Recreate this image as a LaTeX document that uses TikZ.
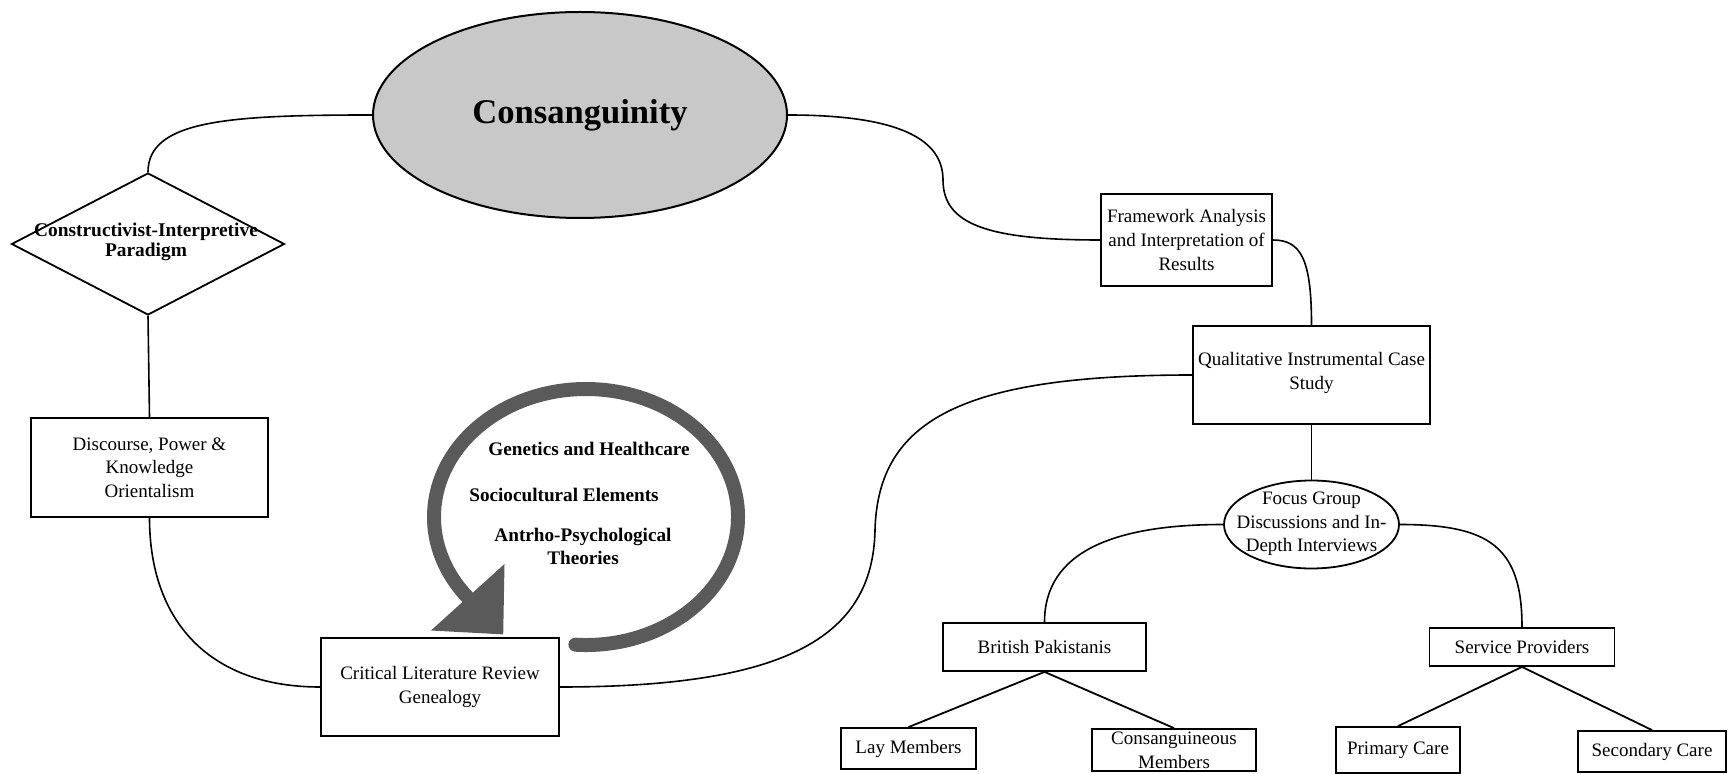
\documentclass[tikz,border=0pt]{standalone}
\usepackage{fontspec}
\setmainfont{Liberation Serif}
\usetikzlibrary{shapes.geometric}
\definecolor{ellgray}{RGB}{200,200,200}
\definecolor{arrgray}{RGB}{90,90,90}
\tikzset{
 box/.style={draw, line width=0.9pt, rectangle, inner sep=0pt, align=center, font=\fontsize{9.5}{11.8}\selectfont},
 conn/.style={draw, line width=0.8pt},
 lbl/.style={inner sep=0pt, align=center, font=\fontsize{9.5}{11.8}\selectfont},
 blbl/.style={inner sep=0pt, align=center, font=\bfseries\fontsize{9.6}{11.5}\selectfont},
}
\begin{document}
\begin{tikzpicture}[x=0.5pt,y=0.5pt]
\useasboundingbox (0,0) rectangle (1728,-774);
% big circular arrow
\draw[line width=7pt, arrgray, line cap=round] (575.4,-644.7) arc[start angle=266, end angle=579, x radius=76pt, y radius=64pt];
\fill[arrgray] (503.2,-634.4) -- (504.5,-564) -- (431,-630.5) -- cycle;
% nodes
\node[ellipse, draw, line width=1pt, fill=ellgray, minimum width=207pt, minimum height=103pt, inner sep=0pt] (cons) at (580,-115) {};
\node[inner sep=0pt, font=\bfseries\fontsize{17.3}{20}\selectfont] (consT) at (580,-115) {Consanguinity};
\node[diamond, draw, line width=0.9pt, minimum width=136.5pt, minimum height=71pt, inner sep=0pt] (para) at (148,-244) {};
\node[inner sep=0pt, align=center, font=\bfseries\fontsize{9.7}{10}\selectfont] (paraT) at (146,-242) {Constructivist-Interpretive\\Paradigm};
\node[box, minimum width=118.5pt, minimum height=49.5pt] (disc) at (149.5,-467.5) {Discourse, Power \&\\Knowledge\\Orientalism};
\node[box, minimum width=119pt, minimum height=49pt] (crit) at (440,-687) {Critical Literature Review\\Genealogy};
\node[box, minimum width=85.5pt, minimum height=46pt] (frame) at (1186.5,-240) {Framework Analysis\\and Interpretation of\\Results};
\node[box, minimum width=118.5pt, minimum height=49pt] (qual) at (1311.5,-375) {};
\node[lbl] (qualT) at (1311.5,-373) {Qualitative Instrumental Case\\Study};
\node[ellipse, draw, line width=0.9pt, minimum width=87.5pt, minimum height=44pt, inner sep=0pt] (focus) at (1311.5,-524.5) {};
\node[lbl] (focusT) at (1311.5,-524) {Focus Group\\Discussions and In-\\Depth Interviews};
\node[box, minimum width=101.5pt, minimum height=24pt] (brit) at (1044.5,-647) {British Pakistanis};
\node[box, minimum width=92.5pt, minimum height=19pt] (serv) at (1522,-647) {Service Providers};
\node[box, minimum width=67.5pt, minimum height=20.5pt] (lay) at (908.5,-748.5) {Lay Members};
\node[box, minimum width=82pt, minimum height=21pt] (consm) at (1174,-750) {};
\node[lbl] (consmT) at (1174,-750) {Consanguineous\\Members};
\node[box, minimum width=62pt, minimum height=23pt] (prim) at (1398,-750) {Primary Care};
\node[box, minimum width=74pt, minimum height=20.5pt] (sec) at (1652,-751.5) {Secondary Care};
% loop labels
\node[blbl] (gen) at (589,-449) {Genetics and Healthcare};
\node[blbl] (soc) at (564,-495) {Sociocultural Elements};
\node[blbl] (ant) at (583,-546.5) {Antrho-Psychological\\Theories};
% connectors
\path[conn] (cons.west) .. controls +(-143,0) and +(0,52) .. (para.north);
\path[conn] (para.south) -- (disc.north);
\path[conn] (disc.south) .. controls +(0,-103) and +(-111,0) .. (crit.west);
\coordinate (m1) at (875,-530);
\path[conn] (crit.east) .. controls +(221,0) and +(-2,-110) .. (m1) .. controls +(3,110) and +(-230,0) .. (qual.west);
\coordinate (m2) at (943,-180);
\path[conn] (cons.east) .. controls +(113,0) and +(0,40) .. (m2) .. controls +(0,-45) and +(-111,0) .. (frame.west);
\path[conn] (frame.east) .. controls +(28,0) and +(0,66) .. (qual.north);
\path[conn] (qual.south) -- (focus.north);
\path[conn] (focus.west) .. controls +(-110,0) and +(0,70) .. (brit.north);
\path[conn] (focus.east) .. controls +(90,0) and +(0,80) .. (serv.north);
\path[conn, line width=0.9pt] (brit.south) -- (lay.north);
\path[conn, line width=0.9pt] (brit.south) -- (consm.north);
\path[conn, line width=0.9pt] (serv.south) -- (prim.north);
\path[conn, line width=0.9pt] (serv.south) -- (sec.north);
\end{tikzpicture}
\end{document}
